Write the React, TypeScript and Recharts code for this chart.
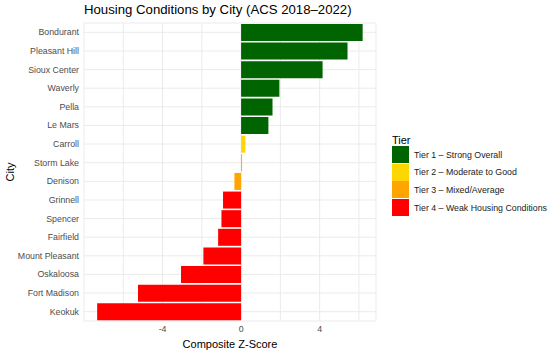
import { Bar, BarChart, CartesianGrid, Cell, XAxis, YAxis } from "recharts";

const cities = [
  "Bondurant",
  "Pleasant Hill",
  "Sioux Center",
  "Waverly",
  "Pella",
  "Le Mars",
  "Carroll",
  "Storm Lake",
  "Denison",
  "Grinnell",
  "Spencer",
  "Fairfield",
  "Mount Pleasant",
  "Oskaloosa",
  "Fort Madison",
  "Keokuk",
];
const scores = [6.19, 5.42, 4.15, 1.95, 1.6, 1.39, 0.22, 0.05, -0.34, -0.92, -1.0, -1.17, -1.92, -3.06, -5.25, -7.33];
const cityTier = [1, 1, 1, 1, 1, 1, 2, 3, 3, 4, 4, 4, 4, 4, 4, 4];

const tierLabels = [
  "Tier 1 \u2013 Strong Overall",
  "Tier 2 \u2013 Moderate to Good",
  "Tier 3 \u2013 Mixed/Average",
  "Tier 4 \u2013 Weak Housing Conditions",
];
const tierColors = ["#006400", "#FFD700", "#FFA500", "#FF0000"];

const xTicks = [-6, -4, -2, 0, 2, 4, 6];
const labelledTicks = [-4, 0, 4];

const data = cities.map((city, i) => ({ city, score: scores[i], tier: cityTier[i] }));

const font = "'Liberation Sans', Arial, sans-serif";

function CityTick(props: any) {
  const { x, y, payload } = props;
  return (
    <text x={x} y={y} dy={3} textAnchor="end" fill="#4d4d4d" fontSize={8.8} fontFamily={font}>
      {payload.value}
    </text>
  );
}

function ScoreTick(props: any) {
  const { x, y, payload } = props;
  if (!labelledTicks.includes(payload.value)) return null;
  return (
    <text x={x} y={y} dy={8} textAnchor="middle" fill="#4d4d4d" fontSize={8.8} fontFamily={font}>
      {payload.value}
    </text>
  );
}

function TierLegend() {
  return (
    <div style={{ position: "absolute", left: 392, top: 134, fontFamily: font, color: "#000" }}>
      <div style={{ fontSize: 11, height: 12 }}>Tier</div>
      {tierLabels.map((label, i) => (
        <div key={label} style={{ display: "flex", alignItems: "center", height: 17.6 }}>
          <div style={{ width: 17, height: 17, background: tierColors[i] }} />
          <span style={{ fontSize: 8.8, marginLeft: 5, color: "#1a1a1a" }}>{label}</span>
        </div>
      ))}
    </div>
  );
}

export default function App() {
  return (
    <div style={{ position: "fixed", top: 0, left: 0, width: 558, height: 352, background: "#fff", fontFamily: font }}>
      <BarChart
        width={558}
        height={352}
        data={data}
        layout="vertical"
        margin={{ top: 23, right: 182, bottom: 0, left: 0 }}
        barCategoryGap="5%"
      >
        <CartesianGrid stroke="#ebebeb" strokeWidth={1} />
        <XAxis
          type="number"
          dataKey="score"
          domain={[-8.0, 6.87]}
          allowDataOverflow
          ticks={xTicks}
          tick={<ScoreTick />}
          tickLine={false}
          axisLine={false}
          tickSize={0}
          tickMargin={3}
          height={31}
          label={{ value: "Composite Z-Score", position: "insideBottom", offset: 4, fill: "#000", fontSize: 11, fontFamily: font }}
        />
        <YAxis
          type="category"
          dataKey="city"
          width={84}
          tick={<CityTick />}
          tickLine={false}
          axisLine={false}
          tickSize={0}
          tickMargin={5}
          interval={0}
        />
        <Bar dataKey="score" isAnimationActive={false}>
          {data.map((d) => (
            <Cell key={d.city} fill={tierColors[d.tier - 1]} />
          ))}
        </Bar>
      </BarChart>
      <div style={{ position: "absolute", left: 84, top: 2, fontSize: 13.2, color: "#000" }}>
        Housing Conditions by City (ACS 2018–2022)
      </div>
      <div
        style={{
          position: "absolute",
          left: 1,
          top: 172,
          fontSize: 11,
          color: "#000",
          transform: "translate(0, -50%) rotate(-90deg)",
          transformOrigin: "center",
        }}
      >
        City
      </div>
      <TierLegend />
    </div>
  );
}
